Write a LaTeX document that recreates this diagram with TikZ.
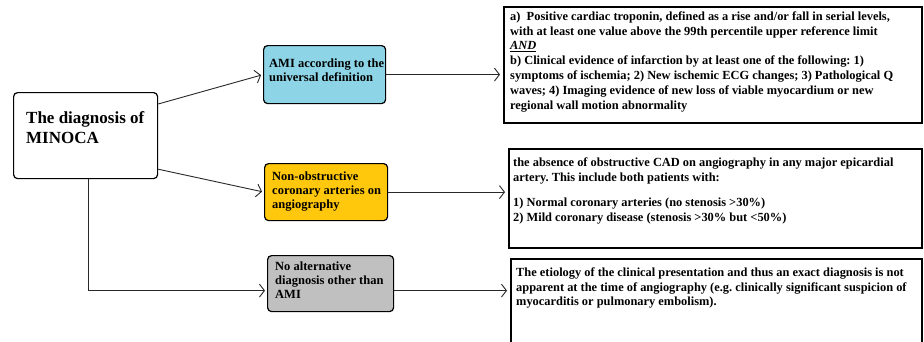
\documentclass[tikz,border=0pt]{standalone}
\usepackage{fontspec}
\setmainfont{Liberation Serif}
\usetikzlibrary{arrows.meta}
\frenchspacing
\definecolor{amiblue}{RGB}{140,212,230}
\definecolor{nonyellow}{RGB}{255,200,12}
\definecolor{altgray}{RGB}{192,192,192}
\definecolor{lineC}{RGB}{40,40,40}
\tikzset{
  rbox/.style={draw=black, line width=1.2pt, rounded corners=4pt, inner sep=0pt, anchor=north west},
  defbox/.style={draw=black, line width=1.9pt, inner sep=0pt, anchor=north west},
  txt/.style={inner sep=0pt, anchor=north west, align=left, font=\bfseries},
  deftxt/.style={txt, font=\bfseries\fontsize{12.4}{14.8}\selectfont},
  smalltxt/.style={txt, font=\bfseries\fontsize{12.5}{14}\selectfont},
  conn/.style={draw=lineC, line width=0.9pt, -{Straight Barb[length=5pt,width=13pt,line width=0.9pt]}},
}
\begin{document}
\begin{tikzpicture}[x=1pt,y=-1pt]
\useasboundingbox (0,0) rectangle (924,341);
\clip (0,0) rectangle (924,341);
\fill[white] (0,0) rectangle (924,341);
% boxes
\node[rbox, fill=white, minimum width=144pt, minimum height=86pt] (main) at (13,92) {};
\node[rbox, fill=amiblue, minimum width=122pt, minimum height=58pt] (ami) at (263,45) {};
\node[rbox, fill=nonyellow, minimum width=123pt, minimum height=57pt] (non) at (264,163) {};
\node[rbox, fill=altgray, minimum width=126pt, minimum height=56pt] (alt) at (267,255) {};
\node[defbox, minimum width=418pt, minimum height=116pt] (d1) at (503,6) {};
\node[defbox, minimum width=413pt, minimum height=99pt] (d2) at (508,148) {};
\node[defbox, minimum width=411pt, minimum height=100pt] (d3) at (510,258) {};
% texts
\node[txt, font=\bfseries\fontsize{17}{20}\selectfont] (maint) at (26,111) {The diagnosis of\\MINOCA};
\node[smalltxt] (amit) at (269,58.5) {AMI according to the\\universal definition};
\node[smalltxt] (nont) at (272,172) {Non-obstructive\\coronary arteries on\\angiography};
\node[smalltxt] (altt) at (275,262) {No alternative\\diagnosis other than\\AMI};
\node[deftxt] (d1t) at (510,11.3) {a)\ \ Positive cardiac troponin, defined as a rise and/or fall in serial levels,\\with at least one value above the 99th percentile upper reference limit\\\underline{\textit{AND}}\\b) Clinical evidence of infarction by at least one of the following: 1)\\symptoms of ischemia; 2) New ischemic ECG changes; 3) Pathological Q\\waves; 4) Imaging evidence of new loss of viable myocardium or new\\regional wall motion abnormality};
\node[deftxt] (d2t) at (513,157.3) {the absence of obstructive CAD on angiography in any major epicardial\\artery. This include both patients with:\\[11pt]1) Normal coronary arteries (no stenosis >30\%)\\2) Mild coronary disease (stenosis >30\% but <50\%)};
\node[deftxt] (d3t) at (516,267.3) {The etiology of the clinical presentation and thus an exact diagnosis is not\\apparent at the time of angiography (e.g. clinically significant suspicion of\\myocarditis or pulmonary embolism).};
% connectors
\coordinate (mainA) at ([yshift=-12pt]main.north east);
\coordinate (mainB) at ([yshift=10pt]main.south east);
\coordinate (mainC) at ([xshift=3pt]main.south);
\coordinate (altin) at ([yshift=-7pt]alt.west);
\coordinate (altout) at ([yshift=-7pt]alt.east);
\draw[conn, shorten >=2pt] (mainA) -- (ami.west);
\draw[conn, shorten >=2pt] (mainB) -- (non.west);
\draw[conn, shorten >=2pt] (mainC) |- (altin);
\draw[conn, shorten >=3pt] (ami.east) -- (ami.east -| d1.west);
\draw[conn, shorten >=3pt] (non.east) -- (non.east -| d2.west);
\draw[conn, shorten >=3pt] (altout) -- (altout -| d3.west);
\end{tikzpicture}
\end{document}
